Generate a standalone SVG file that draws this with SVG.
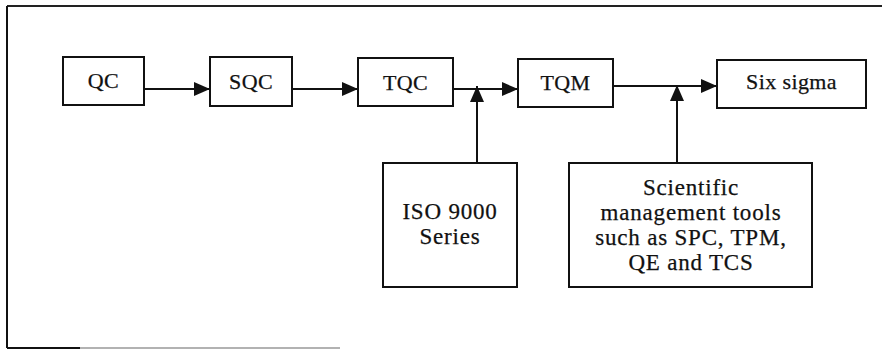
<svg xmlns="http://www.w3.org/2000/svg" width="882" height="349" viewBox="0 0 882 349">
<style>
.box{fill:#fff;stroke:#111;stroke-width:2}
.lbl{font-family:"Liberation Serif","Times New Roman",serif;fill:#111;text-anchor:middle;stroke:#111;stroke-width:0.25}
.top{font-size:22px;letter-spacing:0.4px}
.big{font-size:23px;letter-spacing:0.8px}
.conn{stroke:#111;stroke-width:2;fill:none}
</style>
<defs>
<marker id="ah" viewBox="0 0 16 14" refX="16" refY="7" markerWidth="16" markerHeight="14" markerUnits="userSpaceOnUse" orient="auto">
<path d="M0,0 L16,7 L0,14 Z" fill="#111"/>
</marker>
</defs>
<g id="frame">
<path d="M7,6 H882" stroke="#222" stroke-width="2" fill="none"/>
<path d="M7,6 V348" stroke="#111" stroke-width="2" fill="none"/>
<path d="M7,348 H80" stroke="#111" stroke-width="2" fill="none"/>
<path d="M80,348 H340" stroke="#999" stroke-width="1.5" fill="none"/>
</g>
<g id="connectors">
<path class="conn" d="M144,89 H210" marker-end="url(#ah)"/>
<path class="conn" d="M292,89 H358" marker-end="url(#ah)"/>
<path class="conn" d="M453,89 H518" marker-end="url(#ah)"/>
<path class="conn" d="M613,86 H717" marker-end="url(#ah)"/>
<path class="conn" d="M477,163 V86" marker-end="url(#ah)"/>
<path class="conn" d="M677,163 V85" marker-end="url(#ah)"/>
</g>
<g id="qc">
<rect class="box" x="63" y="57" width="81" height="48"/>
<text class="lbl top" x="103.5" y="88">QC</text>
</g>
<g id="sqc">
<rect class="box" x="210" y="57" width="82" height="49"/>
<text class="lbl top" x="251" y="89">SQC</text>
</g>
<g id="tqc">
<rect class="box" x="358" y="58" width="95" height="48"/>
<text class="lbl top" x="405.5" y="90">TQC</text>
</g>
<g id="tqm">
<rect class="box" x="518" y="59" width="95" height="48"/>
<text class="lbl top" x="565.5" y="90">TQM</text>
</g>
<g id="sixsigma">
<rect class="box" x="717" y="60" width="149" height="48"/>
<text class="lbl top" x="791.5" y="89">Six sigma</text>
</g>
<g id="iso">
<rect class="box" x="383" y="163" width="134" height="124"/>
<text class="lbl big" x="450" y="219">ISO 9000</text>
<text class="lbl big" x="450" y="244">Series</text>
</g>
<g id="tools">
<rect class="box" x="569" y="163" width="243" height="124"/>
<text class="lbl big" x="691" y="195">Scientific</text>
<text class="lbl big" x="691" y="220">management tools</text>
<text class="lbl big" x="691" y="245">such as SPC, TPM,</text>
<text class="lbl big" x="691" y="270">QE and TCS</text>
</g>
</svg>
